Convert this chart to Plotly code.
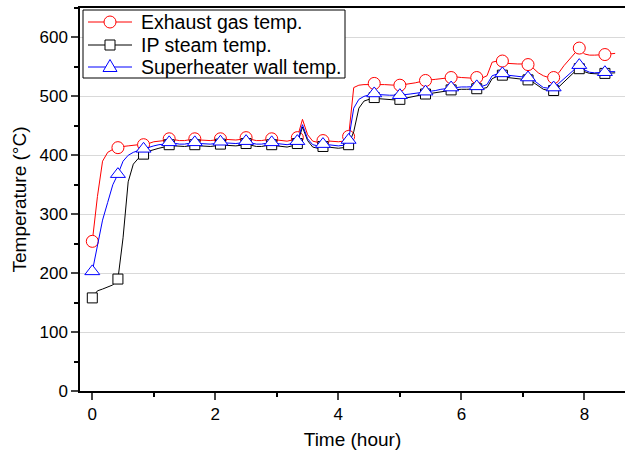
import plotly.graph_objects as go

# time axis: one reading every 5 minutes (hours)
n_points = 103
time_h = [i / 12 for i in range(n_points)]
marker_every = 5  # symbols every 25 minutes

exhaust_gas = [
    254, 330, 390, 405, 410, 413, 415, 416, 417, 417,
    418, 420, 423, 424, 425, 428, 426, 425, 425, 426,
    428, 426, 425, 425, 426, 428, 427, 426, 426, 427,
    430, 427, 425, 425, 426, 428, 426, 425, 424, 426,
    430, 461, 435, 424, 422, 425, 424, 423, 423, 424,
    432, 515, 519, 520, 520, 522, 520, 520, 519, 519,
    519, 520, 521, 523, 525, 527, 528, 529, 530, 531,
    532, 533, 532, 531, 531, 532, 531, 535, 558, 560,
    560, 556, 555, 555, 555, 554, 548, 540, 535, 532,
    532, 540, 552, 562, 572, 582, 572, 570, 570, 570,
    571, 572, 573,
]
ip_steam = [
    158, 170, 173, 176, 180, 190, 260, 355, 385, 395,
    402, 407, 410, 412, 414, 418, 416, 415, 415, 416,
    418, 416, 415, 415, 416, 419, 417, 416, 416, 417,
    420, 417, 415, 415, 416, 418, 416, 415, 414, 416,
    420, 448, 425, 414, 412, 415, 414, 413, 412, 413,
    418, 440, 480, 492, 495, 498, 496, 495, 494, 494,
    495, 497, 499, 500, 502, 504, 505, 506, 508, 509,
    511, 512, 512, 512, 512, 513, 513, 515, 530, 534,
    536, 532, 531, 530, 529, 528, 524, 518, 512, 510,
    510, 516, 524, 533, 541, 547, 542, 539, 538, 538,
    539, 540, 540,
]
superheater_wall = [
    203, 250, 290, 320, 350, 368, 390, 400, 405, 408,
    411, 414, 416, 418, 419, 422, 420, 419, 419, 420,
    422, 420, 419, 419, 420, 423, 421, 420, 420, 421,
    424, 421, 419, 419, 420, 422, 420, 419, 418, 420,
    424, 452, 428, 418, 416, 419, 418, 417, 416, 417,
    426, 480, 495, 500, 502, 505, 503, 502, 502, 502,
    502, 503, 504, 505, 506, 508, 509, 510, 512, 513,
    515, 516, 516, 516, 516, 517, 517, 520, 535, 538,
    539, 536, 535, 534, 533, 532, 528, 522, 515, 514,
    515, 522, 530, 538, 546, 553, 545, 541, 540, 540,
    541, 542, 542,
]

series_names = ["Exhaust gas temp.", "IP steam temp.", "Superheater wall temp."]
series_values = [exhaust_gas, ip_steam, superheater_wall]
series_colors = ["#ff0000", "#000000", "#0000ff"]
series_symbols = ["circle", "square", "triangle-up"]
series_sizes = [12, 10, 13]

x_ticks = [0, 2, 4, 6, 8]
y_ticks = [0, 100, 200, 300, 400, 500, 600]

W, H = 625, 453
ML, MR, MT, MB = 80, 0, 8, 62
PW, PH = W - ML - MR, H - MT - MB


def px_x(px):
    return (px - ML) / PW


def px_y(py):
    return (H - MB - py) / PH


fig = go.Figure()
for name, vals, color, symbol, size in zip(series_names, series_values, series_colors,
                                           series_symbols, series_sizes):
    fig.add_trace(go.Scatter(
        x=time_h, y=vals, mode="lines", line=dict(color=color, width=1),
        showlegend=False, name=name, hoverinfo="skip"))
    fig.add_trace(go.Scatter(
        x=time_h[::marker_every], y=vals[::marker_every], mode="markers",
        showlegend=False, name=name,
        marker=dict(symbol=symbol, size=size, color="white",
                    line=dict(color=color, width=1))))

# legend box drawn by hand (Origin-style, compact rows)
shapes = [dict(type="rect", xref="paper", yref="paper",
               x0=px_x(83), x1=px_x(345), y0=px_y(78), y1=px_y(10),
               line=dict(color="black", width=1), fillcolor="white", layer="above")]
annotations = []
row_y = [22, 45, 67]
sym_x = px_x(110)
for name, color, symbol, ry in zip(series_names, series_colors, series_symbols, row_y):
    yp = px_y(ry)
    shapes.append(dict(type="line", xref="paper", yref="paper",
                       x0=px_x(88), x1=px_x(132), y0=yp, y1=yp,
                       line=dict(color=color, width=1), layer="above"))
    common = dict(xref="paper", yref="paper", xsizemode="pixel", ysizemode="pixel",
                  xanchor=sym_x, yanchor=yp, line=dict(color=color, width=1),
                  fillcolor="white", layer="above")
    if symbol == "circle":
        shapes.append(dict(type="circle", x0=-6, x1=6, y0=-6, y1=6, **common))
    elif symbol == "square":
        shapes.append(dict(type="rect", x0=-5, x1=5, y0=-5, y1=5, **common))
    else:
        shapes.append(dict(type="path", path="M-7,-4.5 L7,-4.5 L0,7.5 Z", **common))
    annotations.append(dict(xref="paper", yref="paper", x=px_x(139), y=yp,
                            xanchor="left", yanchor="middle", showarrow=False,
                            text=name, font=dict(size=19.5, color="black")))

font_family = "Arial, Liberation Sans, sans-serif"
fig.update_layout(
    width=W, height=H,
    margin=dict(l=ML, r=MR, t=MT, b=MB),
    paper_bgcolor="white", plot_bgcolor="white",
    font=dict(family=font_family, color="black", size=17),
    showlegend=False,
    shapes=shapes, annotations=annotations,
    xaxis=dict(range=[-0.2, 8.66], tickvals=x_ticks, ticks="outside",
               ticklen=7, tickwidth=1.5, linecolor="black", linewidth=1.5,
               showline=True, mirror=True, showgrid=False, zeroline=False,
               minor=dict(dtick=1, tick0=0, ticks="outside", ticklen=4,
                          tickwidth=1.5, tickcolor="black", showgrid=False),
               tickfont=dict(size=17),
               title=dict(text="Time (hour)", font=dict(size=19), standoff=10)),
    yaxis=dict(range=[0, 650], tickvals=y_ticks, ticks="outside",
               ticklen=7, tickwidth=1.5, linecolor="black", linewidth=1.5,
               showline=True, showgrid=True, gridcolor="#d9d9d9", gridwidth=1,
               zeroline=False,
               minor=dict(dtick=50, tick0=0, ticks="outside", ticklen=4,
                          tickwidth=1.5, tickcolor="black", showgrid=False),
               tickfont=dict(size=17),
               title=dict(text="Temperature (°C)", font=dict(size=19), standoff=8)),
)

fig.write_html("out.html")
